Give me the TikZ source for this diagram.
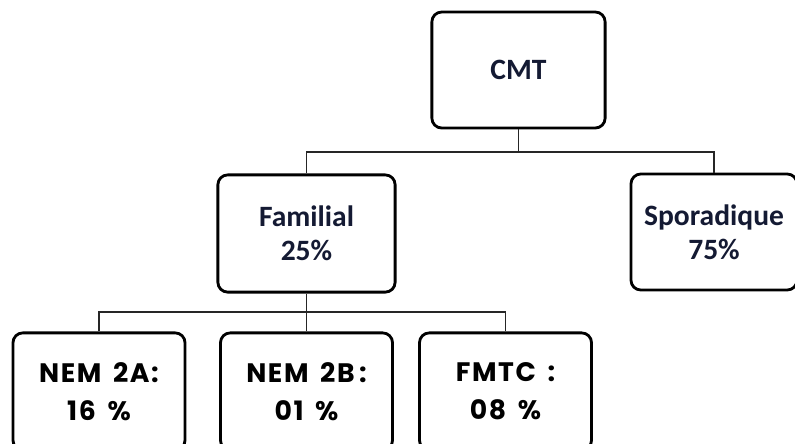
\documentclass[tikz,border=0pt]{standalone}
\usepackage{fontspec}
\setmainfont{Carlito}
\newfontfamily\comicfont[LetterSpace=6,WordSpace=1.6]{Poppins}
\usetikzlibrary{positioning}
\usetikzlibrary{calc}
\definecolor{inkblue}{HTML}{141A33}

\tikzset{
box/.style={draw=black, line width=2pt, rounded corners=7pt, fill=white, align=center, text=inkblue, font=\fontsize{21}{24}\selectfont\bfseries},
lowbox/.style={box, font=\comicfont\fontsize{19}{27}\selectfont\bfseries, text=black, minimum width=4.3cm, minimum height=2.93cm},
link/.style={line width=1.3pt, draw=black!85}
}

\begin{document}
\begin{tikzpicture}[x=0.025cm,y=-0.025cm]
\useasboundingbox (0,0) rectangle (795,443);
\clip (0,0) rectangle (795,443);

%top
\node[box, minimum width=4.33cm, minimum height=2.9cm] (cmt) at (518.5,70) {CMT};

%second row
\node[box, minimum width=4.43cm, minimum height=2.93cm] (familial) at (306.5,233.5) {Familial\\25\%};
\node[box, minimum width=4.15cm, minimum height=2.9cm] (sporadique) at (714,232) {Sporadique\\75\%};

%third row
\node[lowbox] (nem2a) at (99,391.5) {NEM 2A:\\16 \%};
\node[lowbox] (nem2b) at (306.5,391.5) {NEM 2B\,:\\01 \%};
\node[lowbox] (fmtc) at (505.5,391.5) {FMTC :\\08 \%};

%links
\coordinate (bus1) at (0,152);
\coordinate (bus2) at (0,312);
\draw[link] (cmt.south) -- (cmt.south |- bus1);
\draw[link] (familial.north) -- (familial.north |- bus1) -| (sporadique.north);
\draw[link] (familial.south) -- (nem2b.north);
\draw[link] (nem2a.north) -- (nem2a.north |- bus2) -| (fmtc.north);

\end{tikzpicture}
\end{document}
